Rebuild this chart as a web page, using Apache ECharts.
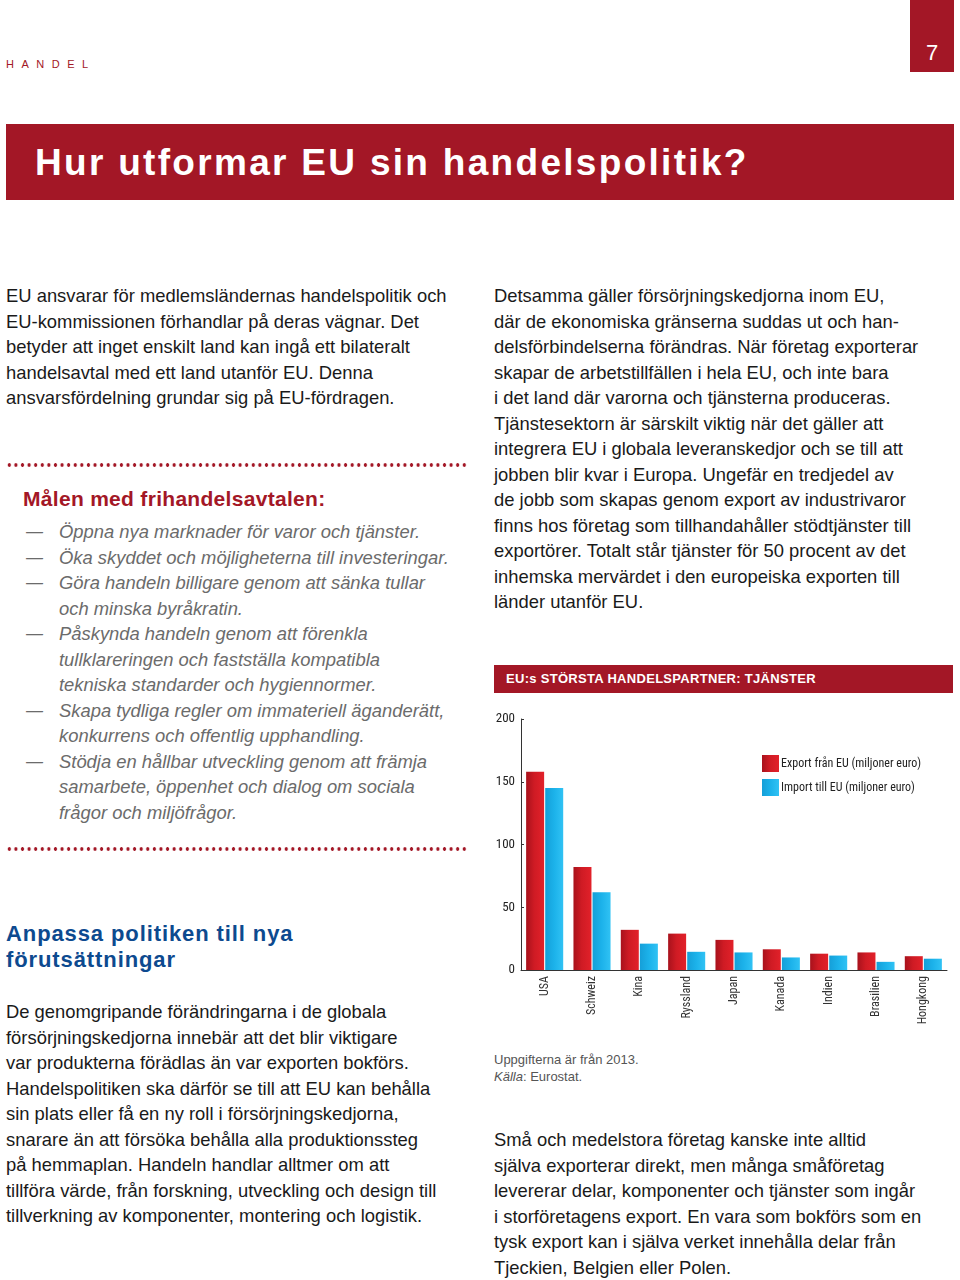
<!DOCTYPE html>
<html>
<head>
<meta charset="utf-8">
<script src="https://cdn.jsdelivr.net/npm/echarts@6/dist/echarts.min.js"></script>
<style>
  body{margin:0;background:#fff;font-family:'Liberation Sans',Arial,sans-serif;}
  #page{position:relative;width:960px;height:1280px;overflow:hidden;}
  .abs{position:absolute;white-space:nowrap;}
  .txt{font-size:18.4px;line-height:25.5px;color:#1a1a1a;}
  .dots{position:absolute;left:6px;width:462px;height:4px;
    background:radial-gradient(circle,#a31726 1.5px,transparent 2px);background-size:6.6px 4px;background-repeat:repeat-x;}
  .list{font-style:italic;color:#6b6b6b;font-size:18.4px;line-height:25.5px;}
  .list .d{position:absolute;left:26px;font-size:17px;}
</style>
</head>
<body>
<div id="page">
  <div class="abs" style="left:6px;top:58px;font-size:11px;letter-spacing:7.5px;color:#a31726;">HANDEL</div>
  <div class="abs" style="left:910px;top:0;width:44px;height:72px;background:#a31726;color:#fff;font-size:22px;text-align:center;line-height:22px;">
    <div style="position:absolute;left:0;width:44px;top:42px;">7</div>
  </div>
  <div class="abs" style="left:6px;top:124px;width:948px;height:76px;background:#a31726;"></div>
  <div class="abs" style="left:35px;top:140px;font-size:37px;line-height:46px;font-weight:bold;color:#fff;letter-spacing:2.3px;">Hur utformar EU sin handelspolitik?</div>

  <div class="abs txt" style="left:6px;top:283px;">
    EU ansvarar för medlemsländernas handelspolitik och<br>
    EU-kommissionen förhandlar på deras vägnar. Det<br>
    betyder att inget enskilt land kan ingå ett bilateralt<br>
    handelsavtal med ett land utanför EU. Denna<br>
    ansvarsfördelning grundar sig på EU-fördragen.
  </div>

  <div class="dots" style="top:463px;"></div>
  <div class="abs" style="left:23px;top:486px;font-size:21px;line-height:26px;color:#a31726;font-weight:bold;letter-spacing:0.3px;">Målen med frihandelsavtalen:</div>
  <div class="abs list" style="left:0;top:519px;width:470px;height:310px;">
    <div class="d" style="top:0">—</div>
    <div class="d" style="top:25.5px">—</div>
    <div class="d" style="top:51px">—</div>
    <div class="d" style="top:102px">—</div>
    <div class="d" style="top:178.5px">—</div>
    <div class="d" style="top:229.5px">—</div>
    <div style="position:absolute;left:59px;top:0;">
      Öppna nya marknader för varor och tjänster.<br>
      Öka skyddet och möjligheterna till investeringar.<br>
      Göra handeln billigare genom att sänka tullar<br>
      och minska byråkratin.<br>
      Påskynda handeln genom att förenkla<br>
      tullklareringen och fastställa kompatibla<br>
      tekniska standarder och hygiennormer.<br>
      Skapa tydliga regler om immateriell äganderätt,<br>
      konkurrens och offentlig upphandling.<br>
      Stödja en hållbar utveckling genom att främja<br>
      samarbete, öppenhet och dialog om sociala<br>
      frågor och miljöfrågor.
    </div>
  </div>
  <div class="dots" style="top:847px;"></div>

  <div class="abs" style="left:6px;top:921px;font-size:22px;line-height:26px;color:#0d4a8f;font-weight:bold;letter-spacing:0.9px;">Anpassa politiken till nya<br>förutsättningar</div>
  <div class="abs txt" style="left:6px;top:999px;">
    De genomgripande förändringarna i de globala<br>
    försörjningskedjorna innebär att det blir viktigare<br>
    var produkterna förädlas än var exporten bokförs.<br>
    Handelspolitiken ska därför se till att EU kan behålla<br>
    sin plats eller få en ny roll i försörjningskedjorna,<br>
    snarare än att försöka behålla alla produktionssteg<br>
    på hemmaplan. Handeln handlar alltmer om att<br>
    tillföra värde, från forskning, utveckling och design till<br>
    tillverkning av komponenter, montering och logistik.
  </div>

  <div class="abs txt" style="left:494px;top:283px;">
    Detsamma gäller försörjningskedjorna inom EU,<br>
    där de ekonomiska gränserna suddas ut och han-<br>
    delsförbindelserna förändras. När företag exporterar<br>
    skapar de arbetstillfällen i hela EU, och inte bara<br>
    i det land där varorna och tjänsterna produceras.<br>
    Tjänstesektorn är särskilt viktig när det gäller att<br>
    integrera EU i globala leveranskedjor och se till att<br>
    jobben blir kvar i Europa. Ungefär en tredjedel av<br>
    de jobb som skapas genom export av industrivaror<br>
    finns hos företag som tillhandahåller stödtjänster till<br>
    exportörer. Totalt står tjänster för 50 procent av det<br>
    inhemska mervärdet i den europeiska exporten till<br>
    länder utanför EU.
  </div>

  <div class="abs" style="left:494px;top:665px;width:459px;height:28px;background:#a31726;"></div>
  <div class="abs" style="left:506px;top:665px;font-size:13px;line-height:28px;color:#fff;font-weight:bold;letter-spacing:0.3px;">EU:s STÖRSTA HANDELSPARTNER: TJÄNSTER</div>

  <div id="chart" style="position:absolute;left:480px;top:700px;width:480px;height:350px;"></div>

  <div class="abs" style="left:494px;top:1051px;font-size:13px;line-height:17px;color:#555;">Uppgifterna är från 2013.<br><i>Källa</i>: Eurostat.</div>

  <div class="abs txt" style="left:494px;top:1127px;">
    Små och medelstora företag kanske inte alltid<br>
    själva exporterar direkt, men många småföretag<br>
    levererar delar, komponenter och tjänster som ingår<br>
    i storföretagens export. En vara som bokförs som en<br>
    tysk export kan i själva verket innehålla delar från<br>
    Tjeckien, Belgien eller Polen.
  </div>
</div>
<script>
var categories = ['USA', 'Schweiz', 'Kina', 'Ryssland', 'Japan', 'Kanada', 'Indien', 'Brasilien', 'Hongkong'];
var exportValues = [158, 82, 32, 29, 24, 16.5, 13, 14, 11];
var importValues = [145, 62, 21, 14.5, 14, 10, 11.5, 6.5, 9];
var seriesNames = ['Export från EU (miljoner euro)', 'Import till EU (miljoner euro)'];
var yTicks = {min: 0, max: 200, interval: 50};

var narrow = "'Liberation Sans Narrow','Roboto Condensed','Liberation Sans',sans-serif";

function initChart(){
	var myChart = echarts.init(document.getElementById('chart'));
	var red = new echarts.graphic.LinearGradient(0, 0, 1, 0, [
		{offset: 0, color: '#a8121c'},
		{offset: 0.45, color: '#cf1b24'},
		{offset: 1, color: '#e2212a'}
	]);
	var blue = new echarts.graphic.LinearGradient(0, 0, 1, 0, [
		{offset: 0, color: '#159fd8'},
		{offset: 0.5, color: '#1cb2ea'},
		{offset: 1, color: '#30c2f4'}
	]);
	var option = {
		animation: false,
		textStyle: {fontFamily: narrow},
		legend: {
			orient: 'vertical',
			left: 277,
			top: 50,
			itemWidth: 17,
			itemHeight: 17,
			itemGap: 7,
			icon: 'rect',
			textStyle: {fontSize: 12, color: '#222', fontFamily: narrow, padding: [0, 0, 0, -3]},
			data: seriesNames
		},
		grid: {left: 41, right: 13, top: 19, bottom: 80},
		xAxis: {
			type: 'category',
			data: categories,
			axisLine: {lineStyle: {color: '#333', width: 1}},
			axisTick: {inside: true, length: 5, lineStyle: {color: '#333'}},
			axisLabel: {rotate: 90, fontSize: 12, color: '#333', margin: 6, fontFamily: narrow}
		},
		yAxis: {
			type: 'value',
			min: yTicks.min,
			max: yTicks.max,
			interval: yTicks.interval,
			axisLine: {show: true, lineStyle: {color: '#333', width: 1}},
			axisTick: {show: true, inside: true, length: 3, lineStyle: {color: '#333'}},
			splitLine: {show: false},
			axisLabel: {fontSize: 13, color: '#222', margin: 6, fontFamily: narrow}
		},
		series: [
			{
				name: seriesNames[0],
				type: 'bar',
				barWidth: 18,
				barGap: '6%',
				itemStyle: {color: red},
				data: exportValues
			},
			{
				name: seriesNames[1],
				type: 'bar',
				barWidth: 18,
				barGap: '6%',
				itemStyle: {color: blue},
				data: importValues
			}
		]
	};
	myChart.setOption(option);
}
initChart();
</script>
</body>
</html>
